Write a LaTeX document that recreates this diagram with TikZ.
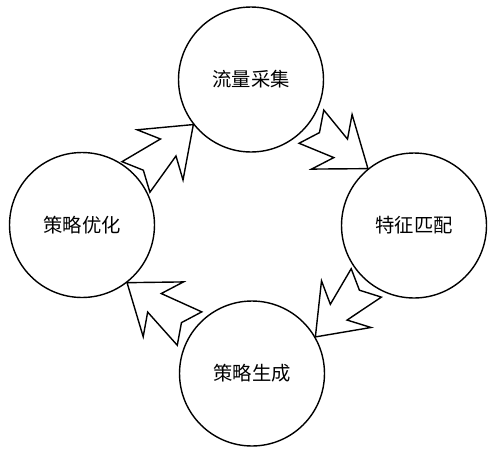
\documentclass[tikz,border=0pt]{standalone}
\usepackage{fontspec}
\newfontfamily\cjk{Noto Sans CJK SC}

\begin{document}
\begin{tikzpicture}[x=0.02cm, y=0.02cm,
        stage/.style = {circle, draw,
            line width = 0.8pt,
            minimum size = 2.9cm,
            inner sep = 0pt,
            font = \cjk\fontsize{11}{13}\selectfont},
        pics/flowarrow/.style = {code = {
            \draw[line width = 0.8pt, fill = white]
                (0,0) -- (-45,34) -- (-34,11.5) -- (-#1-10,20.7) -- (-#1,0)
                -- (-#1-10,-20.7) -- (-34,-11.5) -- (-45,-34) -- cycle;}}]
        \useasboundingbox (0,0) rectangle (500,451);

        % Stages
        \node[stage] (collect) at (251,371.5) {流量采集};
        \node[stage] (match) at (414,225.5) {特征匹配};
        \node[stage] (generate) at (252,77.5) {策略生成};
        \node[stage] (optimize) at (82,226) {策略优化};

        % Arrows between stages
        \pic[rotate = 42.4] at (collect.218.3) {flowarrow = 67.7};
        \pic[rotate = -36.6] at (match.129.6) {flowarrow = 60.4};
        \pic[rotate = 226.7] at (generate.30.9) {flowarrow = 64.2};
        \pic[rotate = 143.7] at (optimize.308.5) {flowarrow = 67.5};
    \end{tikzpicture}
\end{document}
